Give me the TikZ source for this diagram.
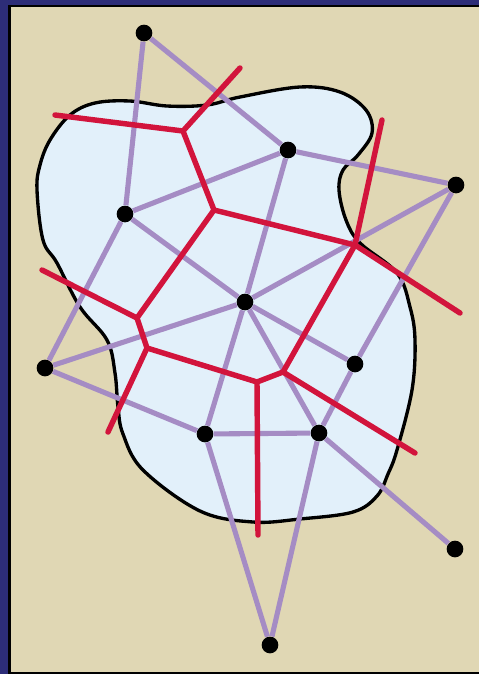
\documentclass[tikz,border=0pt]{standalone}
\usepackage{xcolor}
\definecolor{sandbg}{HTML}{E0D7B4}
\definecolor{navyframe}{HTML}{2D2D78}
\definecolor{lakeblue}{HTML}{E2F0FA}
\definecolor{lavender}{HTML}{A58CC4}
\definecolor{cellred}{HTML}{D2143C}

\begin{document}
\begin{tikzpicture}[x=0.02cm,y=-0.02cm,
  site/.style={circle,fill=black,inner sep=0pt,minimum size=9.5pt},
  tri/.style={draw=lavender,line width=2.9pt},
  cell/.style={draw=cellred,line width=3.1pt,line cap=round,line join=round}]
  \useasboundingbox (0,0) rectangle (479,674);
  % background and frame
  \fill[sandbg] (0,0) rectangle (479,674);
  \fill[navyframe] (0,0) rectangle (8,674);
  \fill[navyframe] (0,0) rectangle (479,5);
  \draw[black,line width=1.5pt] (9.5,674) -- (9.5,6) -- (479,6);
  \draw[black,line width=1.2pt] (9.5,673) -- (479,673);
  % the region
  \draw[black,line width=1.9pt,fill=lakeblue] plot[smooth cycle,tension=0.6] coordinates {
    (37,190) (43,240) (57,263) (80,307) (107,340) (115,373) (118,407) (123,434)
    (143,470) (200,511) (253,522) (300,519) (353,512) (377,496) (388,474)
    (397,450) (412,390) (415,340) (410,307) (397,273) (360,243) (346,220)
    (339,190) (343,170) (358,155) (372,133) (366,110) (340,92) (300,87)
    (240,97) (207,105) (167,106) (130,101) (95,103) (70,115) (50,140) (40,165)};
  % sites
  \node[site] (p1) at (144,33) {};
  \node[site] (p2) at (288,150) {};
  \node[site] (p3) at (456,185) {};
  \node[site] (p4) at (125,214) {};
  \node[site] (p5) at (245,302) {};
  \node[site] (p6) at (45,368) {};
  \node[site] (p7) at (355,364) {};
  \node[site] (p8) at (205,434) {};
  \node[site] (p9) at (319,433) {};
  \node[site] (p10) at (455,549) {};
  \node[site] (p11) at (270,645) {};
  % Delaunay edges
  \foreach \u/\v in {p1/p4, p1/p2, p2/p4, p2/p3, p2/p5, p3/p5, p3/p7, p4/p5,
    p4/p6, p6/p5, p6/p8, p5/p7, p5/p8, p5/p9, p7/p9, p8/p9, p8/p11, p9/p11, p9/p10}
    \draw[tri] (\u) -- (\v);
  % Voronoi vertices and open ends
  \coordinate (v1) at (183,131);
  \coordinate (v2) at (214,210);
  \coordinate (v3) at (355,245);
  \coordinate (v4) at (137,318);
  \coordinate (v5) at (283,372);
  \coordinate (v6) at (147,348);
  \coordinate (v7) at (257,382);
  \coordinate (e1) at (55,115);
  \coordinate (e2) at (240,68);
  \coordinate (e3) at (382,120);
  \coordinate (e4) at (460,313);
  \coordinate (e5) at (42,270);
  \coordinate (e6) at (108,432);
  \coordinate (e7) at (258,535);
  \coordinate (e8) at (415,453);
  \draw[cell] (e1) -- (v1) -- (v2) -- (v3) -- (e4);
  \draw[cell] (v2) -- (v4) -- (v6) -- (v7) -- (v5) -- (v3) -- (e3);
  \foreach \a/\b in {e2/v1, e5/v4, e6/v6, e7/v7, e8/v5}
    \draw[cell] (\a) -- (\b);
\end{tikzpicture}
\end{document}
